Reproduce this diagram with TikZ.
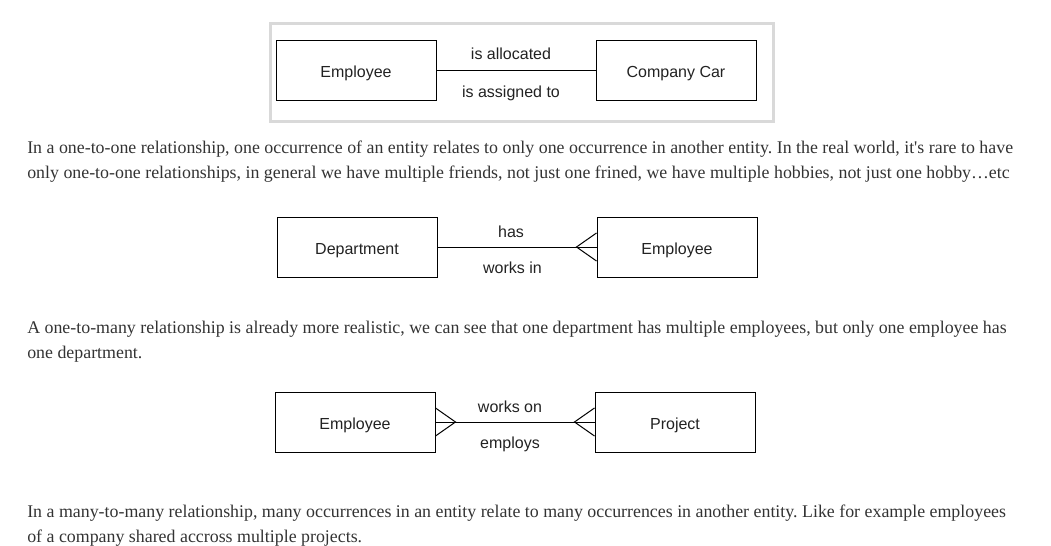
\documentclass[tikz,border=0pt]{standalone}
\usepackage{fontspec}
\setmainfont{Liberation Serif}
\newfontfamily\diafont{Liberation Sans}
\definecolor{txt}{HTML}{333333}
\definecolor{framegray}{HTML}{D9D9D9}
\definecolor{ink}{HTML}{222222}
\frenchspacing
\begin{document}
\begin{tikzpicture}[x=0.75pt,y=-0.75pt,
  ent/.style={draw=black, line width=0.75pt, minimum width=120pt, minimum height=45pt, inner sep=0pt, text height=10.5pt, text depth=0pt, font=\diafont\fontsize{12}{14}\selectfont, text=ink},
  rel/.style={draw=black, line width=0.75pt},
  lbl/.style={anchor=base, inner sep=0pt, font=\diafont\fontsize{12}{14}\selectfont, text=ink},
  para/.style={anchor=base west, inner sep=0pt, font=\fontsize{13.4}{15}\selectfont, text=txt}]
\useasboundingbox (0,0) rectangle (1051,546);
% ---------- diagram 1 ----------
\node[draw=framegray, line width=2.25pt, minimum width=377.25pt, minimum height=73.5pt, inner sep=0pt] (frame) at (521.5,72) {};
\node[ent] (emp1) at (356,70) {Employee};
\node[ent] (car) at (676,70) {Company Car};
\draw[rel] (emp1) -- (car);
\node[lbl] (l1a) at (511,60) {is allocated};
\node[lbl] (l1b) at (511,97) {is assigned to};
% ---------- paragraph 1 ----------
\node[para] (p1a) at (27,153) {In a one-to-one relationship, one occurrence of an entity relates to only one occurrence in another entity. In the real world, it\textquotesingle s rare to have};
\node[para] (p1b) at (27,178) {only one-to-one relationships, in general we have multiple friends, not just one frined, we have multiple hobbies, not just one hobby\char"2026 etc};
% ---------- diagram 2 ----------
\node[ent] (dep) at (357,247) {Department};
\node[ent] (emp2) at (677,247) {Employee};
\draw[rel] (dep) -- (emp2);
\draw[rel] (emp2.west) ++(0,-14) -- ++(-20,14) -- ++(20,14);
\node[lbl] (l2a) at (511,237) {has};
\node[lbl] (l2b) at (512.5,273) {works in};
% ---------- paragraph 2 ----------
\node[para] (p2a) at (27,333) {A one-to-many relationship is already more realistic, we can see that one department has multiple employees, but only one employee has};
\node[para] (p2b) at (27,358) {one department.};
% ---------- diagram 3 ----------
\node[ent] (emp3) at (355,422) {Employee};
\node[ent] (proj) at (675,422) {Project};
\draw[rel] (emp3) -- (proj);
\draw[rel] (emp3.east) ++(0,-14) -- ++(20,14) -- ++(-20,14);
\draw[rel] (proj.west) ++(0,-14) -- ++(-20,14) -- ++(20,14);
\node[lbl] (l3a) at (510,412) {works on};
\node[lbl] (l3b) at (510,448) {employs};
% ---------- paragraph 3 ----------
\node[para] (p3a) at (27,517) {In a many-to-many relationship, many occurrences in an entity relate to many occurrences in another entity. Like for example employees};
\node[para] (p3b) at (27,542) {of a company shared accross multiple projects.};
\end{tikzpicture}
\end{document}
